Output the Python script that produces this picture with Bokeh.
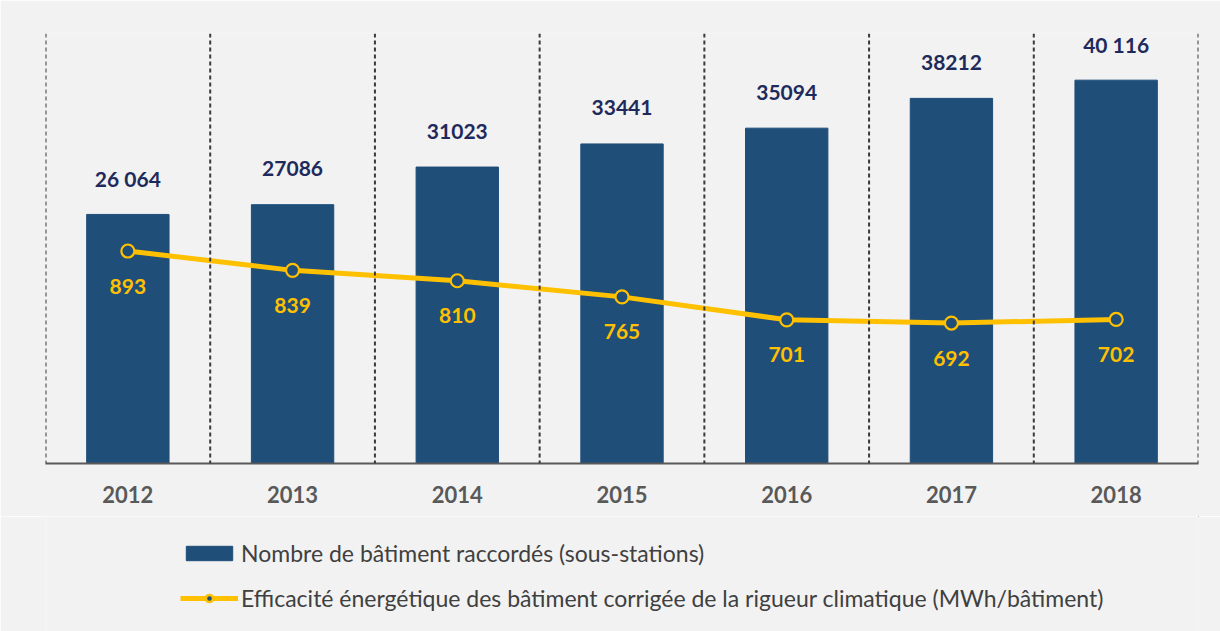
from bokeh.plotting import figure
from bokeh.layouts import column
from bokeh.models import Range1d, FactorRange, Span, Legend, LegendItem, ColumnDataSource
from bokeh.core.properties import value
from bokeh.embed import file_html
from bokeh.resources import INLINE

# ---- data ----
years = ["2012", "2013", "2014", "2015", "2016", "2017", "2018"]
buildings = [26064, 27086, 31023, 33441, 35094, 38212, 40116]
building_labels = ["26 064", "27086", "31023", "33441", "35094", "38212", "40 116"]
efficiency = [893, 839, 810, 765, 701, 692, 702]
efficiency_labels = ["893", "839", "810", "765", "701", "692", "702"]
legend_bars = "Nombre de bâtiment raccordés (sous-stations)"
legend_line = "Efficacité énergétique des bâtiment corrigée de la rigueur climatique (MWh/bâtiment)"

BG = "#F2F2F2"
BAR = "#1F4E79"
GOLD = "#FFC000"
FONT = "Lato"

p = figure(width=1220, height=516, x_range=FactorRange(factors=years, range_padding=0),
           y_range=Range1d(0, 45000), output_backend="svg", toolbar_location=None,
           min_border_left=45, min_border_right=22, min_border_top=33, min_border_bottom=53)
p.extra_y_ranges = {"eff": Range1d(300, 1500)}
p.background_fill_color = BG
p.border_fill_color = BG
p.outline_line_color = None
p.xgrid.visible = False
p.ygrid.visible = False
p.yaxis.visible = False

ax = p.xaxis[0]
ax.axis_line_color = "#595959"
ax.axis_line_width = 2
ax.major_tick_line_color = None
ax.minor_tick_line_color = None
ax.major_tick_in = 0
ax.major_tick_out = 0
ax.major_label_standoff = 22
ax.major_label_text_font = FONT
ax.major_label_text_font_style = "bold"
ax.major_label_text_font_size = "22px"
ax.major_label_text_color = "#595959"

# dashed separators between categories
for i in range(len(years) + 1):
    p.add_layout(Span(location=i, dimension="height", line_color="#3A3A3A",
                      line_width=2, line_dash="4 3"))

src = ColumnDataSource(dict(x=years, b=buildings, bl=building_labels,
                            e=efficiency, el=efficiency_labels))

p.vbar(x="x", top="b", width=0.5, source=src, fill_color=BAR, line_color=BAR)
p.line(x="x", y="e", source=src, y_range_name="eff", line_color=GOLD, line_width=5)
p.scatter(x="x", y="e", source=src, y_range_name="eff", size=13, marker="circle",
          fill_color=BAR, line_color=GOLD, line_width=2.2)

p.text(x="x", y="b", text="bl", source=src, y_offset=-36, text_align="center",
       text_baseline="middle", text_font=value(FONT), text_font_style="bold",
       text_font_size="21px", text_color="#1F2A5C")
p.text(x="x", y="e", text="el", source=src, y_range_name="eff", y_offset=35,
       text_align="center", text_baseline="middle", text_font=value(FONT),
       text_font_style="bold", text_font_size="21px", text_color=GOLD)

# ---- legend strip below the chart ----
lg = figure(width=1220, height=115, x_range=Range1d(0, 1), y_range=Range1d(0, 1),
            x_axis_location=None, y_axis_location=None,
            output_backend="svg", toolbar_location=None,
            min_border_left=45, min_border_right=22, min_border_top=0, min_border_bottom=0)
lg.background_fill_color = BG
lg.border_fill_color = BG
lg.outline_line_color = None
lg.grid.visible = False

# legend-only renderers, placed outside the visible range
r_bar = lg.vbar(x=[5], top=[5], bottom=[4], width=0.5, fill_color=BAR, line_color=BAR)
r_line = lg.line(x=[5, 6], y=[5, 5], line_color=GOLD, line_width=5)
r_pt = lg.scatter(x=[5], y=[5], size=13, marker="circle", fill_color=BAR,
                  line_color=GOLD, line_width=2.5)

legend = Legend(items=[LegendItem(label=legend_bars, renderers=[r_bar]),
                       LegendItem(label=legend_line, renderers=[r_line, r_pt])],
                location=(135, 19), orientation="vertical",
                glyph_width=58, glyph_height=18, label_height=20, spacing=17,
                padding=0, margin=0, label_standoff=3,
                label_text_font=FONT, label_text_font_size="23px", label_text_color="#404040",
                background_fill_alpha=0, border_line_alpha=0)
lg.add_layout(legend, "center")

layout = column(p, lg, spacing=0)
open("out.html", "w").write(file_html(layout, INLINE))
